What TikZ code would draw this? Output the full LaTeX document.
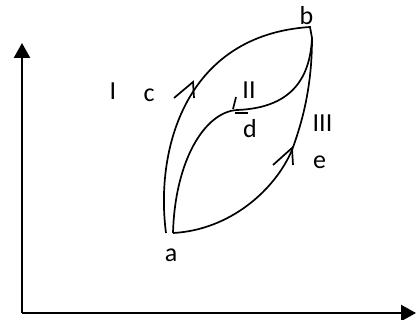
\documentclass[tikz,border=0pt]{standalone}
\usepackage{fontspec}
\setmainfont{Carlito}
\usetikzlibrary{arrows.meta}
\begin{document}
\begin{tikzpicture}[x=1pt,y=-1pt,
  curve/.style={line width=1.7pt},
  axis/.style={line width=2.4pt,-{Triangle[length=15pt,width=16pt]}},
  lab/.style={font=\fontsize{26}{28}\selectfont,inner sep=0pt}]
\useasboundingbox (0,0) rectangle (417,320);
\coordinate (O) at (22,313);
\coordinate (Y) at (22,43);
\coordinate (X) at (416,313);
\draw[axis] (O) -- (Y);
\draw[axis] (O) -- (X);
\coordinate (a1) at (166,233);
\coordinate (a) at (173,233);
\coordinate (btop) at (310,27);
\coordinate (b) at (312,38);
\coordinate (d) at (237,110);
\coordinate (e) at (292,150);
% path I
\draw[curve] (a1) .. controls (155,150) and (185,35) .. (btop) -- (b);
% path II
\draw[curve] (a) .. controls (175,160) and (205,112) .. (d)
  .. controls (290,108) and (310,80) .. (b);
% path III
\draw[curve] (a) .. controls (230,230) and (275,190) .. (e)
  .. controls (305,115) and (312,80) .. (b);
% arrowheads
\draw[curve] (174,98) -- (193,82) -- (194,98);
\draw[curve] (236,97) -- (233,109);
\draw[curve] (235,113) -- (248,113);
\draw[curve] (273,165) -- (292,148) -- (293,165);
% labels
\node[lab] (la) at (171,255.5) {a};
\node[lab] (lb) at (306.5,16) {b};
\node[lab] (lc) at (149,95.5) {c};
\node[lab] (ld) at (250,128.5) {d};
\node[lab] (le) at (319.5,162.5) {e};
\node[lab] (lI) at (113,91) {I};
\node[lab] (lII) at (249,90) {II};
\node[lab] (lIII) at (322.5,123) {III};
\end{tikzpicture}
\end{document}
